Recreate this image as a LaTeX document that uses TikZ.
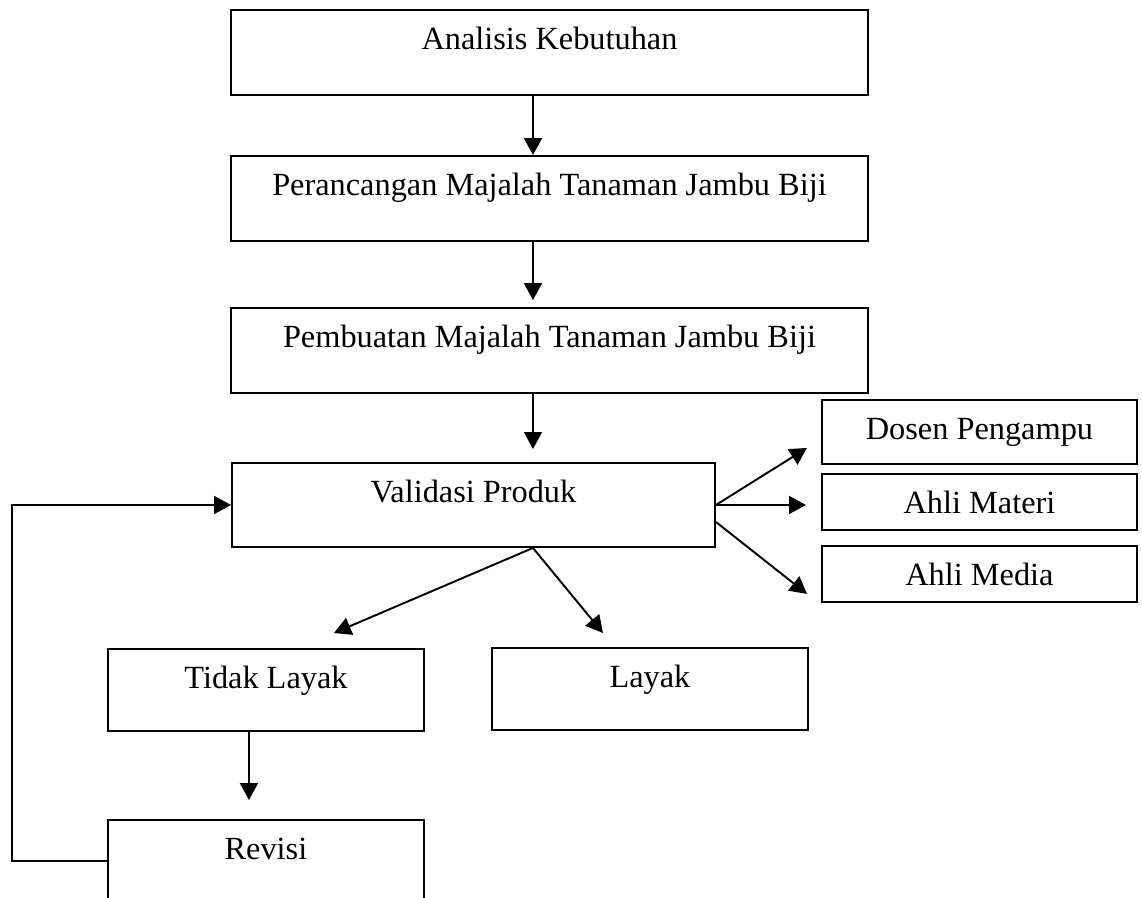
\documentclass[tikz,border=0pt]{standalone}
\usepackage{fontspec}
\setmainfont{Liberation Serif}
\usetikzlibrary{arrows.meta}
\tikzset{
        box/.style={draw, line width=1.1pt, inner sep=0pt, anchor=north west, text height=0.8cm, font=\fontsize{18.4}{22}\selectfont},
        arr/.style={line width=1.1pt, -{Triangle[length=0.34cm,width=0.36cm]}}
}
\begin{document}
\begin{tikzpicture}
        \useasboundingbox (0,0) rectangle (22.84,-17.94);
        \clip (0,0) rectangle (22.84,-17.94);

        \node[box, minimum width=12.74cm, text depth=0.9cm] (analisis) at (4.6,-0.18) {Analisis Kebutuhan};
        \node[box, minimum width=12.74cm, text depth=0.9cm] (perancangan) at (4.6,-3.1) {Perancangan Majalah Tanaman Jambu Biji};
        \node[box, minimum width=12.74cm, text depth=0.9cm] (pembuatan) at (4.6,-6.14) {Pembuatan Majalah Tanaman Jambu Biji};
        \node[box, minimum width=9.66cm, text depth=0.88cm] (validasi) at (4.62,-9.24) {Validasi Produk};

        \node[box, minimum width=6.3cm, text depth=0.48cm] (dosen) at (16.42,-7.98) {Dosen Pengampu};
        \node[box, minimum width=6.3cm, text depth=0.32cm] (materi) at (16.42,-9.46) {Ahli Materi};
        \node[box, minimum width=6.3cm, text depth=0.32cm] (media) at (16.42,-10.9) {Ahli Media};

        \node[box, minimum width=6.32cm, text depth=0.84cm] (tidak) at (2.14,-12.96) {Tidak Layak};
        \node[box, minimum width=6.32cm, text depth=0.84cm] (layak) at (9.82,-12.94) {Layak};
        \node[box, minimum width=6.32cm, text depth=0.84cm] (revisi) at (2.14,-16.38) {Revisi};
        \coordinate (back) at (0.24,-10);

        \draw[arr] ([xshift=-0.33cm]analisis.south) -- ([xshift=-0.33cm]perancangan.north);
        \draw[arr, shorten >=0.14cm] ([xshift=-0.33cm]perancangan.south) -- ([xshift=-0.33cm]pembuatan.north);
        \draw[arr, shorten >=0.26cm] ([xshift=-0.33cm]pembuatan.south) -- ([xshift=-0.33cm]pembuatan.south |- validasi.north);

        \draw[arr] (validasi.east) -- ([xshift=-0.28cm,yshift=0.34cm]dosen.south west);
        \draw[arr] (validasi.east) -- ([xshift=-0.3cm]validasi.east -| materi.west);
        \draw[arr] ([yshift=-0.34cm]validasi.east) -- ([xshift=-0.28cm,yshift=0.18cm]media.south west);

        \draw[arr] ([xshift=-0.33cm]pembuatan.south |- validasi.south) -- ([xshift=1.36cm,yshift=0.3cm]tidak.north);
        \draw[arr] ([xshift=-0.33cm]pembuatan.south |- validasi.south) -- ([xshift=-0.94cm,yshift=0.28cm]layak.north);

        \draw[arr, shorten >=0.38cm] ([xshift=-0.34cm]tidak.south) -- ([xshift=-0.34cm]revisi.north);
        \draw[arr] (revisi.west) -- (revisi.west -| back) |- (validasi.west);
\end{tikzpicture}
\end{document}
